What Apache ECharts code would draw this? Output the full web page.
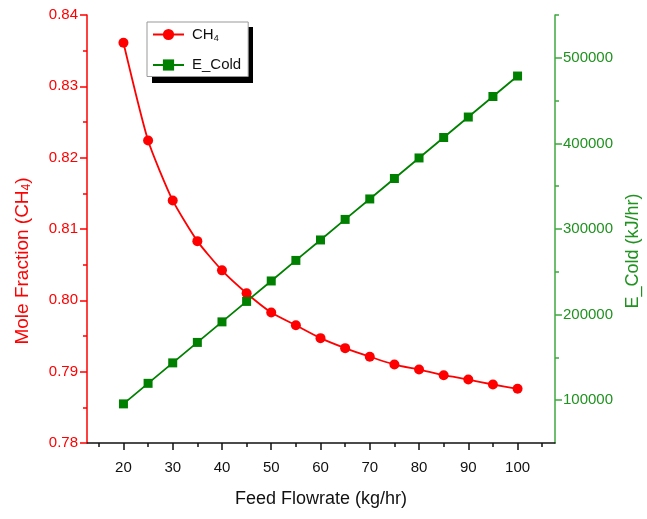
<!DOCTYPE html>
<html>
<head>
<meta charset="utf-8">
<script src="https://cdn.jsdelivr.net/npm/echarts@6/dist/echarts.min.js"></script>
<style>
html,body{margin:0;padding:0;background:#fff;}
#chart{width:647px;height:519px;}
</style>
</head>
<body>
<div id="chart"></div>
<script>
var feedFlow = [20,25,30,35,40,45,50,55,60,65,70,75,80,85,90,95,100];
var ch4Fraction = [0.8361,0.8224,0.8140,0.8083,0.8042,0.8010,0.7983,0.7965,0.7947,0.7933,0.7921,0.7910,0.7903,0.7895,0.7889,0.7882,0.7876];
var eCold = [95700,119700,143600,167500,191500,215400,239300,263300,287200,311200,335100,359000,383000,406900,430800,454800,478700];
var xMajorTicks = [20,30,40,50,60,70,80,90,100];
var xMinorTicks = [15,25,35,45,55,65,75,85,95,105];
var rightMajorTicks = [100000,200000,300000,400000,500000];
var rightMinorTicks = [150000,250000,350000,450000,550000];

var FONT = '"Liberation Sans", Arial, sans-serif';
var RED = '#ff0000';
var GREEN = '#008000';
var GREEN_AXIS = '#3fa83f';
var GREEN_TXT = '#1f921f';

var ch4Data = feedFlow.map(function(x,i){return [x, ch4Fraction[i]];});
var ecData = feedFlow.map(function(x,i){return [x, eCold[i]];});

var chart = echarts.init(document.getElementById('chart'), null, {renderer:'canvas'});
chart.setOption({
  animation:false,
  backgroundColor:'#fff',
  grid:{left:87, right:92, top:15, bottom:76, containLabel:false, outerBoundsMode:'none'},
  graphic:[{
    type:'rect', z:0, silent:true,
    shape:{x:152, y:27, width:101, height:56},
    style:{fill:'#000'}
  }],
  legend:{
    orient:'vertical', left:147, top:22, z:10,
    data:['CH4','E_Cold'],
    itemWidth:31, itemHeight:14, itemGap:14,
    padding:[5,7,4,5],
    backgroundColor:'#fff', borderColor:'#999', borderWidth:1,
    textStyle:{fontFamily:FONT, fontSize:15, color:'#111', padding:[0,0,0,3],
      rich:{sub:{fontFamily:FONT, fontSize:9, color:'#111', verticalAlign:'bottom', padding:[9,0,0,0]}}},
    formatter:function(n){return n==='CH4' ? 'CH{sub|4}' : n;}
  },
  xAxis:[{
    type:'value', min:12.6, max:107.6, position:'bottom',
    name:'Feed Flowrate (kg/hr)', nameLocation:'middle', nameGap:47,
    nameTextStyle:{fontFamily:FONT, fontSize:18, color:'#111'},
    axisLine:{show:true, onZero:false, lineStyle:{color:'#111', width:1.5}},
    axisTick:{show:true, inside:false, length:7, customValues:xMajorTicks, lineStyle:{color:'#111', width:1.5}},
    axisLabel:{show:true, customValues:xMajorTicks, margin:17, fontFamily:FONT, fontSize:15, color:'#111'},
    splitLine:{show:false}
  },{
    type:'value', min:12.6, max:107.6, position:'bottom',
    axisLine:{show:false},
    axisTick:{show:true, inside:false, length:4, customValues:xMinorTicks, lineStyle:{color:'#111', width:1.5}},
    axisLabel:{show:false},
    splitLine:{show:false}
  }],
  yAxis:[{
    type:'value', min:0.78, max:0.84, interval:0.01, position:'left',
    name:'Mole Fraction (CH{sub|4})', nameLocation:'middle', nameGap:54,
    nameTextStyle:{fontFamily:FONT, fontSize:19, color:RED, padding:[0,64,0,0],
      rich:{sub:{fontFamily:FONT, fontSize:12, color:RED, verticalAlign:'bottom', padding:[9,0,0,0]}}},
    axisLine:{show:true, onZero:false, lineStyle:{color:RED, width:1.5}},
    axisTick:{show:true, length:7, lineStyle:{color:RED, width:1.5}},
    minorTick:{show:true, splitNumber:2, length:4, lineStyle:{color:RED, width:1.5}},
    axisLabel:{fontFamily:FONT, fontSize:15, color:RED, margin:9, formatter:function(v){return v.toFixed(2);}},
    splitLine:{show:false}, minorSplitLine:{show:false}
  },{
    type:'value', min:50000, max:550000, position:'right',
    name:'E_Cold (kJ/hr)', nameLocation:'middle', nameGap:68, nameRotate:90,
    nameTextStyle:{fontFamily:FONT, fontSize:18, color:GREEN_TXT, padding:[0,44,0,0]},
    axisLine:{show:true, onZero:false, lineStyle:{color:GREEN_AXIS, width:1.5}},
    axisTick:{show:true, length:7, customValues:rightMajorTicks, lineStyle:{color:GREEN_AXIS, width:1.5}},
    axisLabel:{customValues:rightMajorTicks, fontFamily:FONT, fontSize:15, color:GREEN_TXT, margin:8,
      formatter:function(v){return String(Math.round(v));}},
    splitLine:{show:false}
  },{
    type:'value', min:50000, max:550000, position:'right',
    axisLine:{show:false},
    axisTick:{show:true, length:4, customValues:rightMinorTicks, lineStyle:{color:GREEN_AXIS, width:1.5}},
    axisLabel:{show:false},
    splitLine:{show:false}
  }],
  series:[{
    name:'CH4', type:'line', xAxisIndex:0, yAxisIndex:0,
    data:ch4Data, smooth:0.2,
    symbol:'circle', symbolSize:10,
    lineStyle:{color:RED, width:1.8},
    itemStyle:{color:RED}
  },{
    name:'E_Cold', type:'line', xAxisIndex:0, yAxisIndex:1,
    data:ecData,
    symbol:'rect', symbolSize:9,
    lineStyle:{color:GREEN, width:1.8},
    itemStyle:{color:GREEN}
  }]
});
</script>
</body>
</html>
